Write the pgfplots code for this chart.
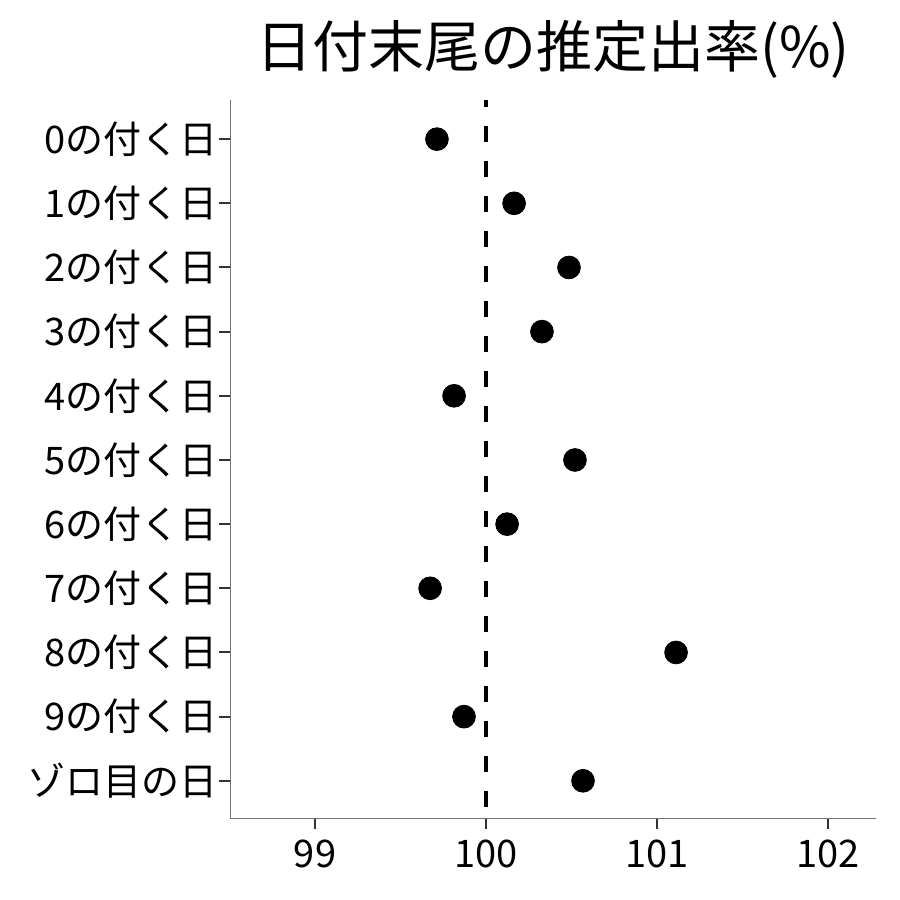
\documentclass[border=0pt]{standalone}
\usepackage{fontspec}
\setmainfont{Noto Sans CJK JP}
\usepackage{pgfplots}
\pgfplotsset{compat=1.18}

\begin{document}
\begin{tikzpicture}
% page: 900 px = 450pt, 1 px = 0.5pt
\useasboundingbox (0,0) rectangle (450pt,450pt);
\begin{axis}[
    at={(115pt,41pt)}, anchor=south west,
    scale only axis,
    width=323pt, height=359pt,
    xmin=98.503, xmax=102.28,
    ymin=-0.61, ymax=10.58,
    y dir=reverse,
    axis lines*=left,
    axis line style={draw=black!55, line width=0.5pt},
    xtick={99,100,101,102},
    ytick={0,...,10},
    yticklabels={0の付く日,1の付く日,2の付く日,3の付く日,4の付く日,5の付く日,6の付く日,7の付く日,8の付く日,9の付く日,ゾロ目の日},
    tick align=outside,
    major tick length=5.5pt,
    tick style={draw=black!80, line width=1pt},
    ticklabel style={font=\fontsize{19}{19}\selectfont, text=black},
    /pgf/number format/assume math mode=true,
    xticklabel style={yshift=-2pt},
    yticklabel style={xshift=3pt},
    title={日付末尾の推定出率(\%)},
    title style={font=\fontsize{28}{28}\selectfont, yshift=1pt},
    clip=false,
]
\addplot[black, line width=2pt, dash pattern=on 8pt off 9.5pt, dash phase=4.5pt] coordinates {(100,-0.61) (100,10.58)};
\addplot[only marks, mark=*, mark size=5.7pt, black] coordinates {
    (99.713,0)
    (100.164,1)
    (100.485,2)
    (100.327,3)
    (99.813,4)
    (100.520,5)
    (100.123,6)
    (99.673,7)
    (101.111,8)
    (99.871,9)
    (100.567,10)
};
\end{axis}
\end{tikzpicture}
\end{document}
